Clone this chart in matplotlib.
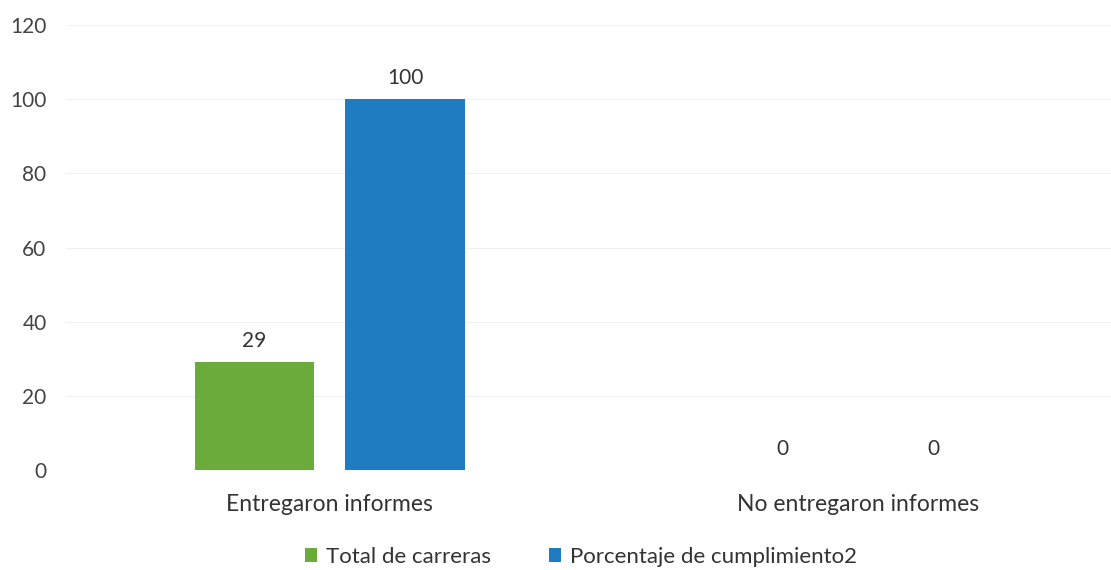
import matplotlib
matplotlib.use("Agg")
import matplotlib.pyplot as plt
import numpy as np

categories = ["Entregaron informes", "No entregaron informes"]
series_names = ["Total de carreras", "Porcentaje de cumplimiento2"]
total_carreras = [29, 0]
porcentaje = [100, 0]
yticks = [0, 20, 40, 60, 80, 100, 120]

colors = ["#6AAB3C", "#1F7CC1"]

plt.rcParams['font.family'] = ['Lato', 'DejaVu Sans']

fig = plt.figure(figsize=(11.11, 5.70), dpi=100)
ax = fig.add_axes([66/1111, 100/570, 1 - 66/1111, 445/570])

x = np.arange(len(categories))
w = 0.227
off = 0.143
b1 = ax.bar(x - off, total_carreras, w, color=colors[0], label=series_names[0])
b2 = ax.bar(x + off, porcentaje, w, color=colors[1], label=series_names[1])

for bars, vals in ((b1, total_carreras), (b2, porcentaje)):
    for rect, v in zip(bars, vals):
        ax.annotate(f"{v}", (rect.get_x() + rect.get_width()/2, v),
                    xytext=(0, 8), textcoords="offset points",
                    ha="center", va="bottom", fontsize=15, color="#333333")

ax.set_ylim(0, 120)
ax.set_yticks(yticks)
ax.set_xlim(-0.5, 1.48)
ax.set_xticks(x)
ax.set_xticklabels(categories, fontsize=16.5, color="#333333")
ax.tick_params(axis='y', labelsize=15, colors="#444444", length=0, pad=14)
ax.tick_params(axis='x', length=0, pad=17)
ax.yaxis.grid(True, color="#f0f0f0", linewidth=0.8)
ax.set_axisbelow(True)
for s in ax.spines.values():
    s.set_visible(False)

fig.legend(handles=[b1, b2], labels=series_names, loc="center",
           bbox_to_anchor=(581/1111, 1 - 557/570), ncol=2, frameon=False,
           fontsize=16, handlelength=0.55, handleheight=0.55, columnspacing=2.6,
           handletextpad=0.4, labelcolor="#333333")

fig.savefig("out.png", dpi=100, facecolor="white")
